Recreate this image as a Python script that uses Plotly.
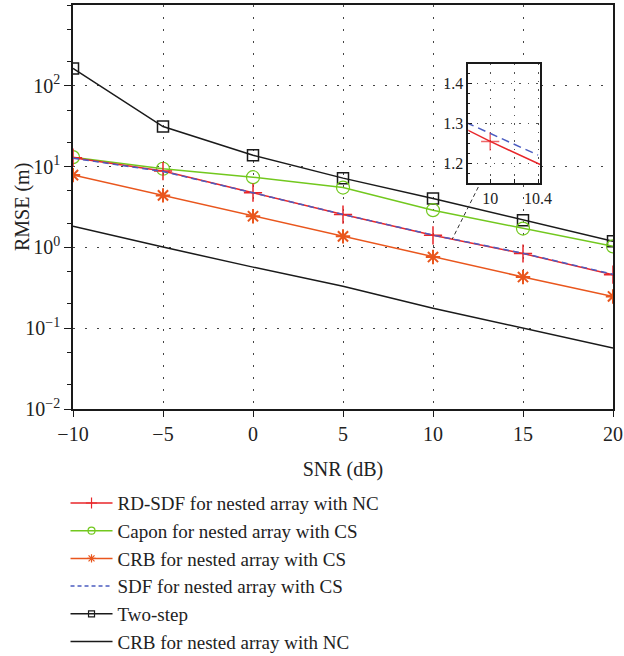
import plotly.graph_objects as go

snr = [-10, -5, 0, 5, 10, 15, 20]
rd_sdf_nc = [12.9, 8.8, 4.75, 2.55, 1.41, 0.84, 0.46]
capon_cs = [13.1, 9.4, 7.4, 5.5, 2.89, 1.71, 1.03]
crb_cs = [7.85, 4.4, 2.43, 1.37, 0.76, 0.43, 0.247]
sdf_cs = [12.7, 8.7, 4.74, 2.56, 1.42, 0.845, 0.465]
two_step = [164, 31.3, 13.8, 7.2, 4.03, 2.17, 1.19]
crb_nc = [1.83, 1.01, 0.57, 0.33, 0.177, 0.10, 0.057]

# inset (zoom near SNR = 10 dB)
inset_x_red = [9.8, 10.0, 10.5]
inset_y_red = [1.285, 1.255, 1.186]
inset_x_blue = [9.8, 10.4]
inset_y_blue = [1.302, 1.221]

x_ticks = [-10, -5, 0, 5, 10, 15, 20]
x_ticktext = ["\u221210", "\u22125", "0", "5", "10", "15", "20"]
y_ticks = [0.01, 0.1, 1, 10, 100]
y_ticktext = ["10<sup>\u22122</sup>", "10<sup>\u22121</sup>", "10<sup>0</sup>",
              "10<sup>1</sup>", "10<sup>2</sup>"]

RED = "#e8262a"
GREEN = "#72c81e"
ORANGE = "#e9561d"
BLUE = "#4b5cc0"
BLACK = "#1a1a1a"
SERIF = "Liberation Serif"

fig = go.Figure()

# plotted series (drawn in this order; legend entries added separately)
fig.add_trace(go.Scatter(x=snr, y=crb_nc, mode="lines", showlegend=False,
                         line=dict(color=BLACK, width=1.5)))
fig.add_trace(go.Scatter(x=snr, y=two_step, mode="lines+markers", showlegend=False,
                         line=dict(color=BLACK, width=1.5),
                         marker=dict(symbol="square-open", size=11, color=BLACK, line=dict(width=1.5))))
fig.add_trace(go.Scatter(x=snr, y=capon_cs, mode="lines+markers", showlegend=False,
                         line=dict(color=GREEN, width=1.5),
                         marker=dict(symbol="circle-open", size=13, color=GREEN, line=dict(width=1.2))))
fig.add_trace(go.Scatter(x=snr, y=crb_cs, mode="lines+markers", showlegend=False,
                         line=dict(color=ORANGE, width=1.5),
                         marker=dict(symbol="asterisk-open", size=12, color=ORANGE, line=dict(width=2, color=ORANGE))))
fig.add_trace(go.Scatter(x=snr, y=rd_sdf_nc, mode="lines+markers", showlegend=False,
                         line=dict(color=RED, width=1.5),
                         marker=dict(symbol="cross-thin-open", size=13, color=RED, line=dict(width=1.5, color=RED))))
fig.add_trace(go.Scatter(x=snr, y=sdf_cs, mode="lines", showlegend=False,
                         line=dict(color=BLUE, width=1.5, dash="6px,4px")))

# legend entries (small legend symbols as in the reference)
legend_specs = [
    ("RD-SDF for nested array with NC", RED, "solid", "cross-thin-open", 8),
    ("Capon for nested array with CS", GREEN, "solid", "circle-open", 7),
    ("CRB for nested array with CS", ORANGE, "solid", "asterisk-open", 7),
    ("SDF for nested array with CS", BLUE, "4px,3px", None, 0),
    ("Two-step", BLACK, "solid", "square-open", 6),
    ("CRB for nested array with NC", BLACK, "solid", None, 0),
]
for name, col, dash, sym, sz in legend_specs:
    if sym:
        fig.add_trace(go.Scatter(x=[None], y=[None], mode="lines+markers", name=name,
                                 line=dict(color=col, width=1.5, dash=dash),
                                 marker=dict(symbol=sym, size=sz, color=col, line=dict(width=1.2, color=col))))
    else:
        fig.add_trace(go.Scatter(x=[None], y=[None], mode="lines", name=name,
                                 line=dict(color=col, width=1.5, dash=dash)))

# inset traces
fig.add_trace(go.Scatter(x=inset_x_red, y=inset_y_red, mode="lines+markers", xaxis="x2", yaxis="y2",
                         line=dict(color=RED, width=1.5), showlegend=False,
                         marker=dict(symbol="cross-thin-open", size=[0, 13, 0], color=RED,
                                     line=dict(width=1.5, color=RED))))
fig.add_trace(go.Scatter(x=inset_x_blue, y=inset_y_blue, mode="lines", xaxis="x2", yaxis="y2",
                         line=dict(color=BLUE, width=1.5, dash="8px,5px"), showlegend=False))

grid_dash = "1.5px,10.5px"
axis_font = dict(family=SERIF, size=20, color="#222")

fig.update_layout(
    width=624, height=656,
    margin=dict(l=73, r=11, t=5, b=247, autoexpand=False),
    paper_bgcolor="white", plot_bgcolor="white",
    font=dict(family=SERIF, size=20, color="#222"),
    xaxis=dict(domain=[0, 1], range=[-10, 20], tickvals=x_ticks, ticktext=x_ticktext,
               ticks="outside", ticklen=6, tickcolor=BLACK, tickwidth=1.2,
               showline=True, linecolor=BLACK, linewidth=1.5, mirror=True,
               showgrid=True, gridcolor="#444", gridwidth=1.3, griddash=grid_dash,
               zeroline=False, tickfont=axis_font, automargin=False,
               title=dict(text="SNR (dB)", font=axis_font, standoff=18)),
    yaxis=dict(domain=[0, 1], type="log", range=[-2, 3], tickvals=y_ticks, ticktext=y_ticktext,
               ticks="outside", ticklen=7, tickcolor=BLACK, tickwidth=1.2,
               minor=dict(ticks="outside", ticklen=4, tickcolor=BLACK, tickwidth=1, showgrid=False),
               showline=True, linecolor=BLACK, linewidth=1.5, mirror=True,
               showgrid=True, gridcolor="#444", gridwidth=1.3, griddash=grid_dash,
               zeroline=False, tickfont=axis_font, automargin=False),
    xaxis2=dict(domain=[0.732, 0.865], anchor="y2", range=[9.817, 10.417],
                tickvals=[10, 10.2, 10.4], ticktext=["10", "", "10.4"],
                ticks="inside", ticklen=4, tickcolor=BLACK,
                showline=True, linecolor=BLACK, linewidth=1.5, mirror=True,
                showgrid=True, gridcolor="#555", gridwidth=1.2, griddash="1.5px,7px",
                zeroline=False, tickfont=dict(family=SERIF, size=16, color="#222")),
    yaxis2=dict(domain=[0.559, 0.854], anchor="x2", range=[1.151, 1.448],
                tickvals=[1.2, 1.3, 1.4], ticktext=["1.2", "1.3", "1.4"],
                ticks="inside", ticklen=4, tickcolor=BLACK,
                minor=dict(ticks="inside", ticklen=2, tickcolor=BLACK, dtick=0.025, showgrid=False),
                showline=True, linecolor=BLACK, linewidth=1.5, mirror=True,
                showgrid=True, gridcolor="#555", gridwidth=1.2, griddash="1.5px,7px",
                zeroline=False, tickfont=dict(family=SERIF, size=16, color="#222")),
    legend=dict(xref="container", yref="container", x=0.105, xanchor="left",
                y=0.262, yanchor="top", bgcolor="rgba(0,0,0,0)",
                font=dict(family=SERIF, size=19, color="#222"), traceorder="normal",
                tracegroupgap=0, itemwidth=42),
    annotations=[
        dict(text="RMSE (m)", xref="paper", yref="paper", x=(22 - 73) / 540, y=0.5,
             textangle=-90, showarrow=False, font=axis_font, xanchor="center", yanchor="middle"),
    ],
    shapes=[
        dict(type="rect", xref="x2 domain", yref="y2 domain", x0=0, x1=1, y0=0, y1=1,
             fillcolor="white", line=dict(width=0), layer="below"),
        dict(type="line", xref="paper", yref="paper", x0=0.7506, y0=0.5495, x1=0.7024, y1=0.4208,
             line=dict(color="#333", width=1, dash="4px,3px")),
    ],
    showlegend=True,
)

fig.write_html("out.html")
